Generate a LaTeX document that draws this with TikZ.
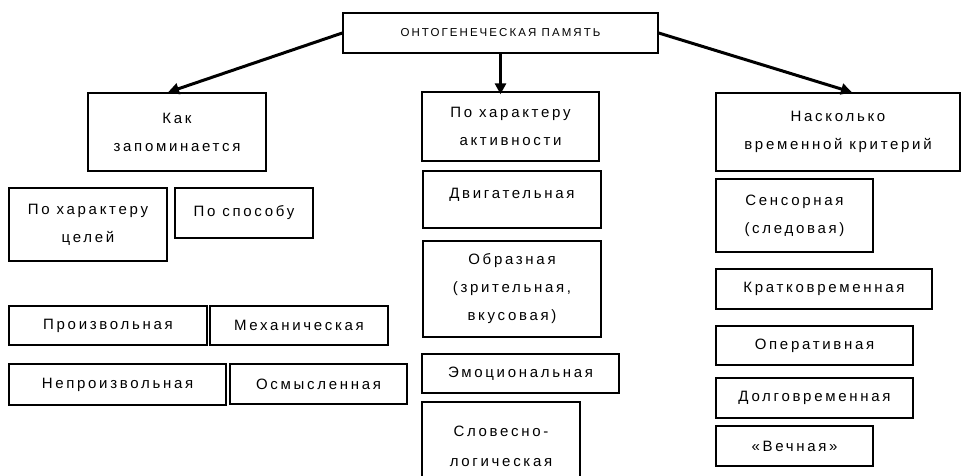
\documentclass[tikz,border=0pt]{standalone}
\usepackage{fontspec}
\setmainfont{Liberation Sans}[LetterSpace=18]
\usetikzlibrary{arrows.meta}
\begin{document}
\begin{tikzpicture}[x=1bp,y=-1bp,
  box/.style={draw=black,line width=1.4bp,align=center,inner sep=2bp,
    font=\fontsize{15bp}{28bp}\selectfont},
  arr/.style={line width=3bp,-{Triangle[length=11bp,width=11bp]}}]
\useasboundingbox (0,0) rectangle (961,476);
\begin{scope}
\clip (0,0) rectangle (961,476);
\node[box,minimum width=315bp,minimum height=40bp,font=\fontsize{11.5bp}{13bp}\selectfont] (root) at (500.5,33) {ОНТОГЕНЕЧЕСКАЯ ПАМЯТЬ};
% left column
\node[box,minimum width=178bp,minimum height=78bp] (kak) at (177,132) {Как\\запоминается};
\node[box,minimum width=158bp,minimum height=73bp] (celey) at (88,224.5) {По характеру\\целей};
\node[box,minimum width=138bp,minimum height=50bp] (sposob) at (244,213) {По способу};
\node[box,minimum width=198bp,minimum height=39bp] (proizv) at (108,325.5) {Произвольная};
\node[box,minimum width=178bp,minimum height=39bp] (mekh) at (299,325.5) {Механическая};
\node[box,minimum width=217bp,minimum height=41bp] (neproizv) at (117.5,384.5) {Непроизвольная};
\node[box,minimum width=177bp,minimum height=40bp] (osmysl) at (318.5,384) {Осмысленная};
% middle column
\node[box,minimum width=177bp,minimum height=69bp] (aktiv) at (510.5,126.5) {По характеру\\активности};
\node[box,minimum width=178bp,minimum height=57bp] (dvig) at (512,199.5) {\raisebox{13bp}{Двигательная}};
\node[box,minimum width=178bp,minimum height=96bp] (obraz) at (512,289) {Образная\\(зрительная,\\вкусовая)};
\node[box,minimum width=197bp,minimum height=39bp] (emoc) at (520.5,373.5) {Эмоциональная};
\node[box,minimum width=158bp,minimum height=88bp] (slov) at (501,446) {Словесно-\\[2bp]логическая};
% right column
\node[box,minimum width=244bp,minimum height=78bp] (nas) at (838,132) {Насколько\\временной критерий};
\node[box,minimum width=157bp,minimum height=73bp] (sens) at (794.5,215.5) {Сенсорная\\(следовая)};
\node[box,minimum width=216bp,minimum height=40bp] (krat) at (824,289) {Кратковременная};
\node[box,minimum width=197bp,minimum height=39bp] (oper) at (814.5,345.5) {Оперативная};
\node[box,minimum width=197bp,minimum height=40bp] (dolg) at (814.5,398) {Долговременная};
\node[box,minimum width=157bp,minimum height=40bp] (vech) at (794.5,446) {«Вечная»};
% arrows
\draw[arr] (root.west) -- ([xshift=-9bp]kak.north);
\draw[arr] (root.south) -- ([yshift=-3bp]root.south |- aktiv.north);
\draw[arr] (root.east) -- ([xshift=14bp]nas.north);
\end{scope}
\end{tikzpicture}
\end{document}
